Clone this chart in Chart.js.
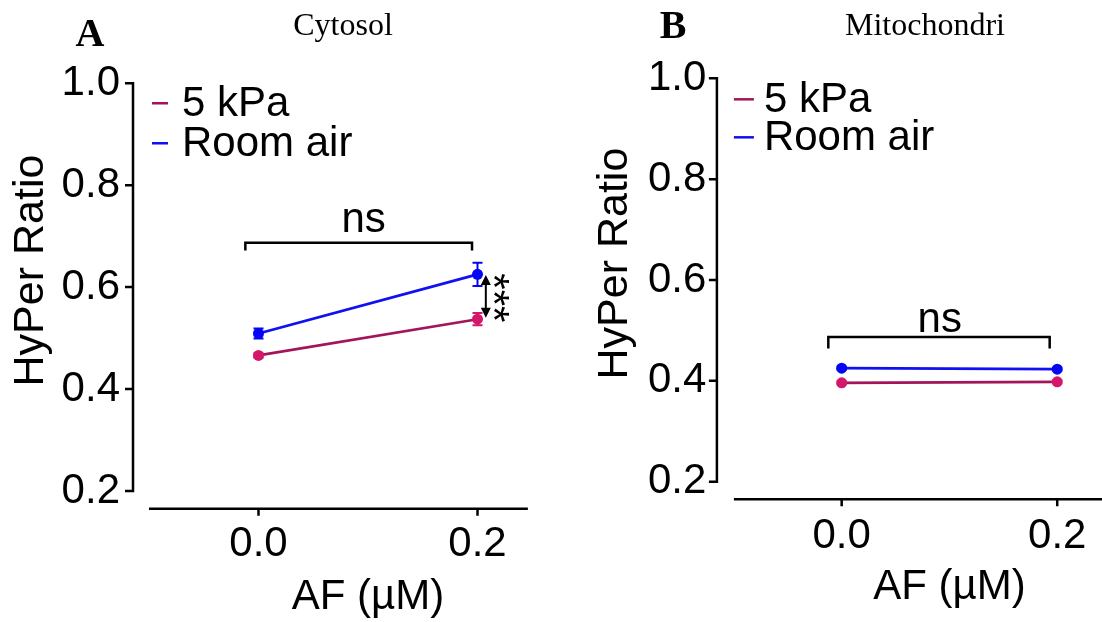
<!DOCTYPE html>
<html>
<head>
<meta charset="utf-8">
<script src="https://cdn.jsdelivr.net/npm/chart.js@4.4.1/dist/chart.umd.min.js"></script>
<style>
  html, body { margin: 0; padding: 0; background: #fff; width: 1102px; height: 622px; overflow: hidden; }
  canvas { position: absolute; top: 0; }
</style>
</head>
<body>
<canvas id="cytosolChart" width="600" height="622" style="left:0px"></canvas>
<canvas id="mitoChart" width="620" height="622" style="left:560px"></canvas>
<script>
// doses on the x axis (AF, µM)
const doses = [0.0, 0.2];
const xTickValues = [0.0, 0.2];
const yTickValues = [0.2, 0.4, 0.6, 0.8, 1.0];
const seriesLabels = ['5 kPa', 'Room air'];

// panel A - cytosol (mean, sem)
const cytosolKpa = [0.466, 0.537];
const cytosolKpaErr = [0.004, 0.012];
const cytosolAir = [0.509, 0.625];
const cytosolAirErr = [0.010, 0.023];

// panel B - mitochondria
const mitoKpa = [0.396, 0.398];
const mitoKpaErr = [0.003, 0.003];
const mitoAir = [0.425, 0.423];
const mitoAirErr = [0.003, 0.003];

const SANS = '"Liberation Sans", Arial, sans-serif';
const SERIF = '"Liberation Serif", "Times New Roman", serif';
const kpaLine = '#A3145A';
const kpaPoint = '#D5176C';
const airLine = '#1010F2';
const airPoint = '#0505F5';

Chart.defaults.font.family = SANS;
Chart.defaults.color = '#000';

// GraphPad-like detached axes, error bars, legend and annotations
const prismPlugin = {
  id: 'prism',
  beforeDatasetsDraw(chart, args, o) {
    const ctx = chart.ctx, xs = chart.scales.x, ys = chart.scales.y, a = chart.chartArea;
    ctx.save();
    ctx.strokeStyle = '#000';
    ctx.lineWidth = 2.5;
    const yx = a.left - o.axisGap;
    ctx.beginPath();
    ctx.moveTo(yx, ys.getPixelForValue(yTickValues[yTickValues.length - 1]) - 1.2);
    ctx.lineTo(yx, ys.getPixelForValue(yTickValues[0]) + 1.2);
    yTickValues.forEach(v => {
      const py = ys.getPixelForValue(v);
      ctx.moveTo(yx + 1.2, py);
      ctx.lineTo(yx - 8, py);
    });
    ctx.moveTo(a.left, a.bottom);
    ctx.lineTo(xs.getPixelForValue(o.xAxisEnd), a.bottom);
    xTickValues.forEach(v => {
      const px = xs.getPixelForValue(v);
      ctx.moveTo(px, a.bottom);
      ctx.lineTo(px, a.bottom + 7);
    });
    ctx.stroke();

    // error bars
    ctx.lineWidth = 2;
    chart.data.datasets.forEach(ds => {
      ctx.strokeStyle = ds.pointBackgroundColor;
      ds.data.forEach((pt, i) => {
        const e = ds.errors[i];
        const px = xs.getPixelForValue(pt.x);
        const top = ys.getPixelForValue(pt.y + e);
        const bot = ys.getPixelForValue(pt.y - e);
        ctx.beginPath();
        ctx.moveTo(px, top); ctx.lineTo(px, bot);
        ctx.moveTo(px - 5, top); ctx.lineTo(px + 5, top);
        ctx.moveTo(px - 5, bot); ctx.lineTo(px + 5, bot);
        ctx.stroke();
      });
    });
    ctx.restore();
  },
  afterDraw(chart, args, o) {
    const ctx = chart.ctx, xs = chart.scales.x, ys = chart.scales.y, a = chart.chartArea;
    ctx.save();
    // panel letter and title
    ctx.fillStyle = '#000';
    ctx.textAlign = 'center';
    ctx.textBaseline = 'alphabetic';
    ctx.font = 'bold 40px ' + SERIF;
    ctx.fillText(o.letter[0], o.letter[1], o.letter[2]);
    ctx.font = '32px ' + SERIF;
    ctx.fillText(o.title[0], o.title[1], o.title[2]);

    // legend
    const yTop = ys.getPixelForValue(yTickValues[yTickValues.length - 1]);
    ctx.font = '42px ' + SANS;
    ctx.textAlign = 'left';
    ctx.textBaseline = 'middle';
    chart.data.datasets.forEach((ds, i) => {
      const ly = yTop + o.legendRows[i];
      ctx.strokeStyle = ds.borderColor;
      ctx.lineWidth = 2.5;
      ctx.beginPath();
      ctx.moveTo(a.left + o.legendLine[0], ly);
      ctx.lineTo(a.left + o.legendLine[1], ly);
      ctx.stroke();
      ctx.fillText(ds.label, a.left + o.legendText, ly + 1);
    });

    // significance bracket
    const b = o.bracket;
    const bx1 = xs.getPixelForValue(b[0]), bx2 = xs.getPixelForValue(b[1]);
    const by = ys.getPixelForValue(b[2]), bd = ys.getPixelForValue(b[3]);
    ctx.strokeStyle = '#000';
    ctx.lineWidth = 2.5;
    ctx.beginPath();
    ctx.moveTo(bx1, bd); ctx.lineTo(bx1, by); ctx.lineTo(bx2, by); ctx.lineTo(bx2, bd);
    ctx.stroke();
    ctx.textAlign = 'center';
    ctx.textBaseline = 'alphabetic';
    ctx.font = '42px ' + SANS;
    ctx.fillText(o.ns[0], xs.getPixelForValue(o.ns[1]), ys.getPixelForValue(o.ns[2]));

    // double arrow with stars
    if (o.arrow) {
      const ax = xs.getPixelForValue(o.arrow[0]);
      const at = ys.getPixelForValue(o.arrow[1]);
      const ab = ys.getPixelForValue(o.arrow[2]);
      ctx.lineWidth = 2;
      ctx.beginPath();
      ctx.moveTo(ax, at + 8); ctx.lineTo(ax, ab - 8);
      ctx.stroke();
      ctx.beginPath();
      ctx.moveTo(ax, at); ctx.lineTo(ax - 5, at + 10); ctx.lineTo(ax + 5, at + 10); ctx.closePath();
      ctx.moveTo(ax, ab); ctx.lineTo(ax - 5, ab - 10); ctx.lineTo(ax + 5, ab - 10); ctx.closePath();
      ctx.fill();
      ctx.save();
      ctx.translate(xs.getPixelForValue(o.stars[1]), ys.getPixelForValue(o.stars[2]));
      ctx.rotate(Math.PI / 2);
      ctx.textBaseline = 'middle';
      ctx.fillText(o.stars[0], 0, 0);
      ctx.restore();
    }
    ctx.restore();
  }
};

function dropPadding(s) {
  s.paddingTop = 0; s.paddingBottom = 0; s.paddingLeft = 0; s.paddingRight = 0;
}

function makePanel(id, p) {
  const toPoints = vals => doses.map((d, i) => ({ x: d, y: vals[i] }));
  return new Chart(document.getElementById(id), {
    type: 'line',
    data: {
      datasets: [
        {
          label: seriesLabels[0], data: toPoints(p.kpa), errors: p.kpaErr,
          borderColor: kpaLine, backgroundColor: kpaPoint, pointBackgroundColor: kpaPoint,
          pointBorderWidth: 0, pointRadius: 5.5, borderWidth: 2.6
        },
        {
          label: seriesLabels[1], data: toPoints(p.air), errors: p.airErr,
          borderColor: airLine, backgroundColor: airPoint, pointBackgroundColor: airPoint,
          pointBorderWidth: 0, pointRadius: 5.5, borderWidth: 2.8
        }
      ]
    },
    options: {
      responsive: false,
      animation: false,
      devicePixelRatio: 1,
      layout: { padding: { top: p.padTop, right: p.padRight, left: 0, bottom: 0 } },
      plugins: {
        legend: { display: false },
        tooltip: { enabled: false },
        prism: p.notes
      },
      scales: {
        x: {
          type: 'linear', min: -0.1, max: 0.3,
          afterBuildTicks: s => { s.ticks = xTickValues.map(v => ({ value: v })); },
          afterFit: s => { s.height = p.xHeight; dropPadding(s); },
          grid: { display: false, drawTicks: false },
          border: { display: false },
          ticks: {
            autoSkip: false, maxRotation: 0, padding: p.xTickPad,
            font: { size: 42 }, color: '#000',
            callback: v => Number(v).toFixed(1)
          },
          title: {
            display: true, text: 'AF (µM)', color: '#000',
            font: { size: 42, lineHeight: 1 }, padding: { top: 0, bottom: p.xTitlePad }
          }
        },
        y: {
          type: 'linear', min: 0.165, max: 1.10,
          afterBuildTicks: s => { s.ticks = yTickValues.map(v => ({ value: v })); },
          afterFit: s => { s.width = p.yWidth; dropPadding(s); },
          grid: { display: false, drawTicks: false },
          border: { display: false },
          ticks: {
            autoSkip: false, padding: p.yTickPad,
            font: { size: 42 }, color: '#000',
            callback: v => Number(v).toFixed(1)
          },
          title: {
            display: true, text: 'HyPer Ratio', color: '#000',
            font: { size: 43, lineHeight: 1 }, padding: { top: p.yTitlePad, bottom: 0 }
          }
        }
      }
    },
    plugins: [prismPlugin]
  });
}

makePanel('cytosolChart', {
  kpa: cytosolKpa, kpaErr: cytosolKpaErr, air: cytosolAir, airErr: cytosolAirErr,
  padTop: 32.3, padRight: 13, yWidth: 149, xHeight: 113.2,
  yTickPad: 29, yTitlePad: 10, xTickPad: 10, xTitlePad: 3.5,
  notes: {
    axisGap: 16, xAxisEnd: 0.246,
    letter: ['A', 90, 46], title: ['Cytosol', 343, 35],
    legendRows: [20, 60], legendLine: [3, 19], legendText: 33,
    bracket: [-0.012, 0.195, 0.687, 0.672],
    ns: ['ns', 0.096, 0.708],
    arrow: [0.2076, 0.624, 0.540],
    stars: ['***', 0.213, 0.579]
  }
});

makePanel('mitoChart', {
  kpa: mitoKpa, kpaErr: mitoKpaErr, air: mitoAir, airErr: mitoAirErr,
  padTop: 27.9, padRight: 15, yWidth: 173.9, xHeight: 122.7,
  yTickPad: 27.5, yTitlePad: 34, xTickPad: 11.5, xTitlePad: 13.5,
  notes: {
    axisGap: 17, xAxisEnd: 0.3,
    letter: ['B', 113, 38], title: ['Mitochondri', 365, 35],
    legendRows: [21, 59], legendLine: [0, 20], legendText: 30,
    bracket: [-0.0124, 0.193, 0.487, 0.464],
    ns: ['ns', 0.091, 0.497]
  }
});
</script>
</body>
</html>
